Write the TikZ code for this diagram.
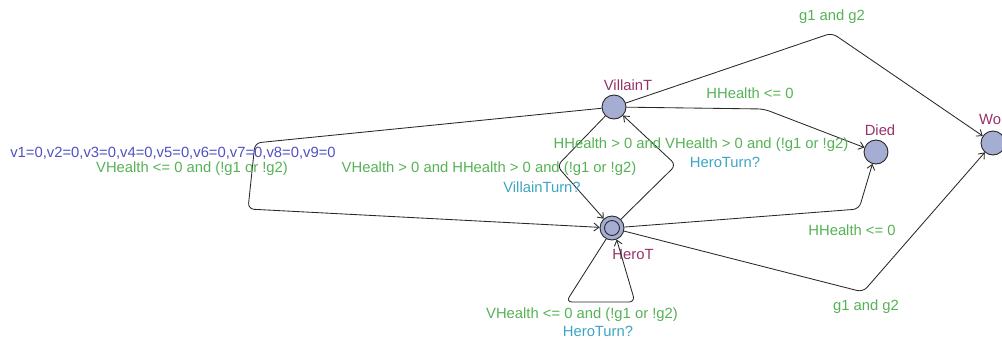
\documentclass[tikz,border=0pt]{standalone}
\usepackage{fontspec}
\setmainfont{Liberation Sans}
\usetikzlibrary{arrows.meta}
\definecolor{guardc}{RGB}{85,178,85}
\definecolor{assignc}{RGB}{80,80,195}
\definecolor{syncc}{RGB}{60,165,195}
\definecolor{namec}{RGB}{150,50,105}
\definecolor{locfill}{RGB}{165,173,210}
\definecolor{edgec}{RGB}{40,40,40}
\begin{document}
\begin{tikzpicture}[x=1pt,y=-1pt,
  font=\fontsize{14.8}{16}\selectfont,
  loc/.style={circle,draw=edgec,line width=0.9pt,fill=locfill,minimum size=24pt,inner sep=0pt},
  edge/.style={draw=edgec,line width=0.85pt,rounded corners=6pt,-{Straight Barb[length=5pt,width=8pt]}},
  guard/.style={text=guardc,inner sep=0pt},
  assign/.style={text=assignc,inner sep=0pt},
  sync/.style={text=syncc,inner sep=0pt},
  lname/.style={text=namec,inner sep=0pt}]
\useasboundingbox (0,0) rectangle (1002,341);
% locations
\node[loc] (V) at (614,107) {};
\node[loc] (H) at (612,228) {};
\draw[edgec,line width=0.9pt] (H.center) circle[radius=7.5pt];
\node[loc] (D) at (876,152) {};
\node[loc] (W) at (993,143) {};
% location names
\node[lname] (nV) at (628,85) {VillainT};
\node[lname] (nH) at (633,254) {HeroT};
\node[lname] (nD) at (880,130) {Died};
\node[lname,anchor=west] (nW) at (979,119) {Won};
% corner coordinates
\coordinate (c1) at (557,166);
\coordinate (c2) at (676,165);
\coordinate (c3) at (764,109);
\coordinate (c4) at (832,33);
\coordinate (c5a) at (255,143);
\coordinate (c5b) at (248,209);
\coordinate (c6) at (859,209);
\coordinate (c7) at (863,292);
\coordinate (c8a) at (566,302);
\coordinate (c8b) at (635,302);
% edges
\draw[edge] (V) -- (c1) -- (H);
\draw[edge] (H) -- (c2) -- (V);
\draw[edge] (V) -- (c3) -- (D);
\draw[edge] (V) -- (c4) -- (W);
\draw[edge] (V) -- (c5a) -- (c5b) -- (H);
\draw[edge] (H) -- (c6) -- (D);
\draw[edge] (H) -- (c7) -- (W);
\draw[edge] (H.242) -- (c8a) -- (c8b) -- (H.292);
% labels
\node[assign] (a5) at (173,153) {v1=0,v2=0,v3=0,v4=0,v5=0,v6=0,v7=0,v8=0,v9=0};
\node[guard] (g5) at (192,169) {VHealth <= 0 and (!g1 or !g2)};
\node[guard] (g1) at (489,169) {VHealth > 0 and HHealth > 0 and (!g1 or !g2)};
\node[sync] (s1) at (542,187) {VillainTurn?};
\node[guard] (g2) at (701,145) {HHealth > 0 and VHealth > 0 and (!g1 or !g2)};
\node[sync] (s2) at (725,162) {HeroTurn?};
\node[guard] (g3) at (750,93) {HHealth <= 0};
\node[guard] (g4) at (832,17) {g1 and g2};
\node[guard] (g6) at (852,230) {HHealth <= 0};
\node[guard] (g7) at (866,307) {g1 and g2};
\node[guard] (g8) at (582,315) {VHealth <= 0 and (!g1 or !g2)};
\node[sync] (s8) at (598,331) {HeroTurn?};
\end{tikzpicture}
\end{document}
